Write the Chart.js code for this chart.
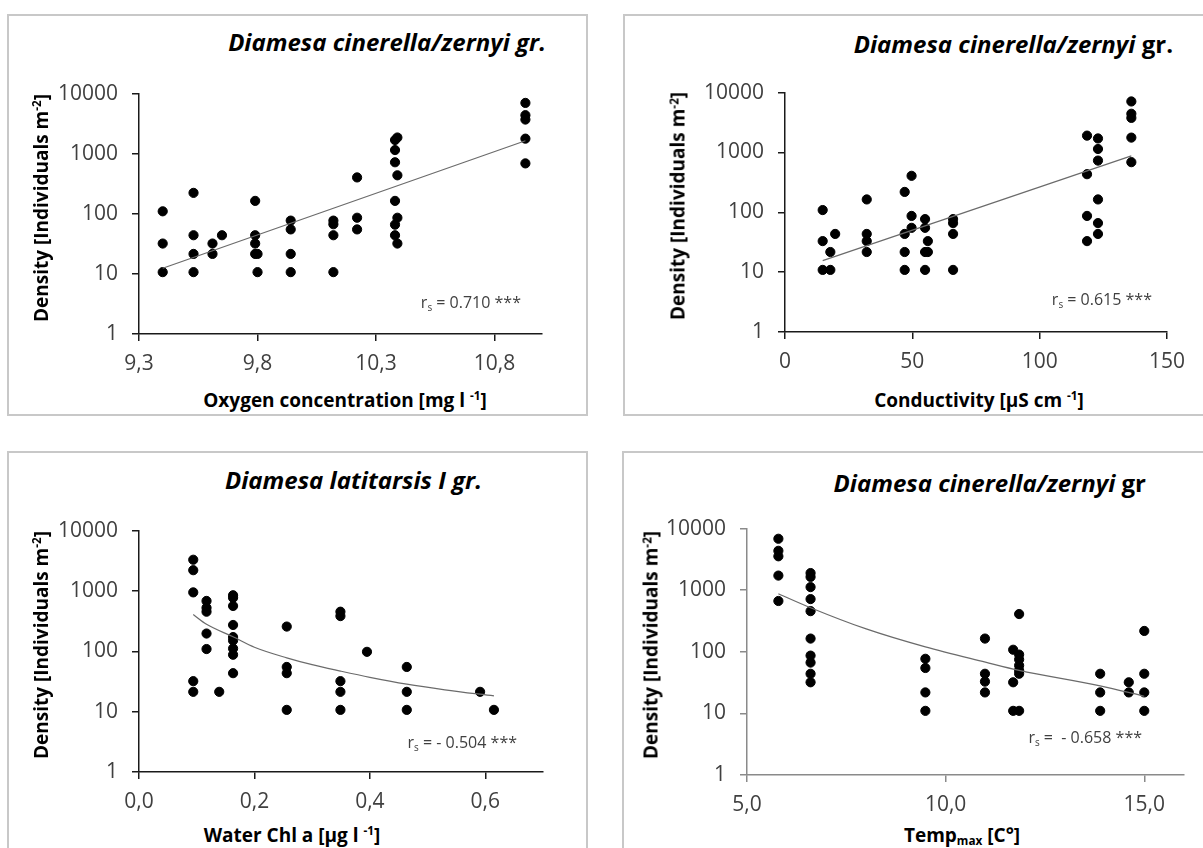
<!DOCTYPE html>
<html>
<head>
<meta charset="utf-8">
<script src="https://cdn.jsdelivr.net/npm/chart.js@4.4.1/dist/chart.umd.min.js"></script>
<style>
  body { margin: 0; background: #fff; width: 1203px; height: 848px; overflow: hidden; position: relative; font-family: 'Open Sans', sans-serif; }
  .frame { position: absolute; border: 2px solid #c8c8c8; box-sizing: border-box; }
  .plot { position: absolute; }
  .txt { position: absolute; white-space: nowrap; line-height: 1; }
  .title { font-size: 24px; font-weight: 700; font-style: italic; color: #000; }
  .title .up { font-style: normal; }
  .axt { font-size: 19px; font-weight: 700; color: #000; }
  .rs { font-size: 16px; color: #404040; }
  sup { font-size: 0.62em; vertical-align: 0.55em; line-height: 0; }
  sub { font-size: 0.62em; vertical-align: -0.3em; line-height: 0; }
</style>
</head>
<body>
<div class="frame" style="left:7px;top:14px;width:581px;height:402px"></div>
<div class="frame" style="left:623px;top:14px;width:600px;height:402px"></div>
<div class="frame" style="left:7px;top:451px;width:581px;height:420px"></div>
<div class="frame" style="left:622px;top:451px;width:600px;height:420px"></div>

<canvas id="c1" class="plot"></canvas>
<canvas id="c2" class="plot"></canvas>
<canvas id="c3" class="plot"></canvas>
<canvas id="c4" class="plot"></canvas>

<div id="labels"></div>

<script>
// Shared density axis
const yTicks = [1, 10, 100, 1000, 10000];
const yTickLabels = ['1', '10', '100', '1000', '10000'];

// Oxygen concentration panel
const oxyX = [9.40, 9.40, 9.40, 9.53, 9.53, 9.53, 9.53, 9.61, 9.61, 9.65,
  9.79, 9.79, 9.79, 9.79, 9.80, 9.80, 9.94, 9.94, 9.94, 9.94,
  10.12, 10.12, 10.12, 10.12, 10.22, 10.22, 10.22,
  10.38, 10.38, 10.38, 10.38, 10.38, 10.38, 10.39, 10.39, 10.39, 10.39,
  10.93, 10.93, 10.93, 10.93, 10.93];
const oxyDensity = [110, 32, 10.7, 223, 44, 21.5, 10.7, 32, 21.5, 44,
  164, 44, 32, 21.5, 21.5, 10.7, 77, 55, 21.5, 10.7,
  77, 67, 44, 10.7, 403, 86, 55,
  1690, 1150, 720, 164, 66, 44, 1860, 437, 86, 32,
  7000, 4370, 3700, 1780, 690];
const oxyTrendX = [9.40, 10.93];
const oxyTrendY = [12.4, 1644];
const oxyTicks = [9.3, 9.8, 10.3, 10.8];
const oxyTickLabels = ['9,3', '9,8', '10,3', '10,8'];

// Conductivity panel
const condX = [14.8, 14.8, 14.8, 17.8, 17.8, 19.7, 32.1, 32.1, 32.1, 32.1,
  47.0, 47.0, 47.0, 47.0, 49.7, 49.7, 49.7, 55.0, 55.0, 55.0, 55.0,
  56.1, 56.1, 66.0, 66.0, 66.0, 66.0, 118.6, 118.6, 118.6, 118.6,
  122.9, 122.9, 122.9, 122.9, 122.9, 122.9, 136, 136, 136, 136, 136];
const condDensity = [109, 33, 10.9, 21.7, 10.9, 43.5, 164, 43.5, 33, 21.7,
  219, 43.5, 21.7, 10.9, 407, 87, 55, 77, 55, 21.7, 10.9,
  33, 21.7, 77, 66, 43.5, 10.9, 1910, 433, 87, 33,
  1713, 1143, 731, 164, 66, 43.5, 7110, 4430, 3780, 1770, 688];
const condTrendX = [14.8, 136];
const condTrendY = [15.6, 877];
const condTicks = [0, 50, 100, 150];
const condTickLabels = ['0', '50', '100', '150'];

// Water Chl a panel
const chlX = [0.094, 0.094, 0.094, 0.094, 0.094, 0.117, 0.117, 0.117, 0.117, 0.117,
  0.139, 0.163, 0.163, 0.163, 0.163, 0.163, 0.163, 0.163, 0.163, 0.163,
  0.256, 0.256, 0.256, 0.256, 0.349, 0.349, 0.349, 0.349, 0.349,
  0.395, 0.464, 0.464, 0.464, 0.591, 0.615];
const chlDensity = [3290, 2207, 947, 32, 21.3, 683, 525, 453, 197, 109,
  21.3, 849, 771, 564, 273, 172, 151, 111, 87.6, 43.4,
  257, 55, 43.4, 10.7, 453, 383, 32, 21.3, 10.7,
  98, 55, 21.3, 10.7, 21.3, 10.7];
const chlTrendX = [0.094, 0.117, 0.163, 0.2, 0.256, 0.3, 0.349, 0.4, 0.464, 0.53, 0.615];
const chlTrendY = [406, 280, 174, 117, 78, 60, 47, 37, 28.5, 23, 18.2];
const chlTicks = [0, 0.2, 0.4, 0.6];
const chlTickLabels = ['0,0', '0,2', '0,4', '0,6'];

// Temp max panel
const tempX = [5.79, 5.79, 5.79, 5.79, 5.79,
  6.60, 6.60, 6.60, 6.60, 6.60, 6.60, 6.60, 6.60, 6.60, 6.60,
  9.49, 9.49, 9.49, 9.49, 10.99, 10.99, 10.99, 10.99,
  11.70, 11.70, 11.70, 11.85, 11.85, 11.85, 11.85, 11.85, 11.85, 11.85,
  13.89, 13.89, 13.89, 14.61, 14.61, 15.0, 15.0, 15.0, 15.0];
const tempDensity = [6840, 4360, 3550, 1727, 668,
  1898, 1645, 1122, 717, 457, 164, 86.7, 66.8, 44, 32,
  77, 54.6, 21.9, 11, 164, 44, 32.8, 21.9,
  108, 32, 11, 410, 90, 75, 60, 50, 44, 11,
  44, 21.9, 11, 32, 21.9, 218, 44, 21.9, 11];
const tempTrendX = [5.79, 6.6, 8.0, 9.49, 11.0, 11.85, 13.89, 15.0];
const tempTrendY = [877, 520, 235, 120, 68, 50, 28, 19];
const tempTicks = [5, 10, 15];
const tempTickLabels = ['5,0', '10,0', '15,0'];

const PAD_L = 95, PAD_R = 30, PAD_T = 14, PAD_B = 45;
const tickFont = { family: "'Open Sans', sans-serif", size: 21 };

function pts(xs, ys) {
  return xs.map((v, i) => ({ x: v, y: ys[i] }));
}

function makePanel(id, p) {
  const cv = document.getElementById(id);
  const w = p.right - p.left + PAD_L + PAD_R;
  const h = p.bottom - p.top + PAD_T + PAD_B;
  cv.width = w;
  cv.height = h;
  cv.style.left = (p.left - PAD_L) + 'px';
  cv.style.top = (p.top - PAD_T) + 'px';
  cv.style.width = w + 'px';
  cv.style.height = h + 'px';

  new Chart(cv, {
    type: 'scatter',
    data: {
      datasets: [
        {
          data: pts(p.tx, p.ty),
          showLine: true,
          borderColor: '#6b6b6b',
          borderWidth: 1.2,
          pointRadius: 0,
          cubicInterpolationMode: 'monotone',
          order: 0
        },
        {
          data: pts(p.x, p.y),
          backgroundColor: '#000',
          borderColor: '#000',
          pointRadius: 4.6,
          clip: false,
          order: 1
        }
      ]
    },
    options: {
      responsive: false,
      animation: false,
      layout: { padding: { top: PAD_T, right: PAD_R, left: 0, bottom: 0 } },
      plugins: { legend: { display: false }, tooltip: { enabled: false } },
      scales: {
        x: {
          type: 'linear',
          min: p.xmin,
          max: p.xmax,
          afterBuildTicks: ax => { ax.ticks = p.xticks.map(v => ({ value: v })); },
          afterFit: s => { s.height = PAD_B; },
          ticks: {
            callback: (v, i) => p.xlabels[i],
            font: tickFont,
            color: '#404040',
            padding: 10,
            maxRotation: 0,
            autoSkip: false
          },
          grid: { drawOnChartArea: false, tickLength: 7, color: p.axisColor, lineWidth: 1.5 },
          border: { color: p.axisColor, width: 1.5 }
        },
        y: {
          type: 'logarithmic',
          min: 1,
          max: 10000,
          afterBuildTicks: ax => { ax.ticks = yTicks.map(v => ({ value: v })); },
          afterFit: s => { s.width = PAD_L; },
          ticks: {
            callback: (v, i) => yTickLabels[i],
            font: tickFont,
            color: '#404040',
            padding: 14,
            autoSkip: false
          },
          grid: { drawOnChartArea: false, tickLength: 7, color: p.axisColor, lineWidth: 1.5 },
          border: { color: p.axisColor, width: 1.5 }
        }
      }
    }
  });
}

// Text overlays: [class, html, x, y, anchor]
const texts = [
  ['title', 'Diamesa cinerella/zernyi gr.', 546, 41.5, 'right'],
  ['axt', 'Density [Individuals m<sup>-2</sup>]', 41, 207.5, 'rot'],
  ['axt', 'Oxygen concentration [mg l <sup>-1</sup>]', 345, 400, 'center'],
  ['rs', 'r<sub>s</sub> = 0.710 ***', 521, 302, 'right'],

  ['title', 'Diamesa cinerella/zernyi <span class="up">gr.</span>', 1173, 44, 'right'],
  ['axt', 'Density [Individuals m<sup>-2</sup>]', 678, 206, 'rot'],
  ['axt', 'Conductivity [µS cm <sup>-1</sup>]', 979, 400, 'center'],
  ['rs', 'r<sub>s</sub> = 0.615 ***', 1152, 299, 'right'],

  ['title', 'Diamesa latitarsis I gr.', 482, 480, 'right'],
  ['axt', 'Density [Individuals m<sup>-2</sup>]', 41, 644.7, 'rot'],
  ['axt', 'Water Chl a [µg l <sup>-1</sup>]', 292, 835, 'center'],
  ['rs', 'r<sub>s</sub> = - 0.504 ***', 517, 741.7, 'right'],

  ['title', 'Diamesa cinerella/zernyi <span class="up">gr</span>', 1146, 483, 'right'],
  ['axt', 'Density [Individuals m<sup>-2</sup>]', 650.5, 645, 'rot'],
  ['axt', 'Temp<sub>max</sub> [C°]', 962, 835, 'center'],
  ['rs', 'r<sub>s</sub> = &nbsp;- 0.658 ***', 1142, 736.7, 'right']
];

function placeTexts() {
  const host = document.getElementById('labels');
  texts.forEach(([cls, html, x, y, anchor]) => {
    const d = document.createElement('div');
    d.className = 'txt ' + cls;
    d.innerHTML = html;
    d.style.left = x + 'px';
    d.style.top = y + 'px';
    if (anchor === 'right') d.style.transform = 'translate(-100%, -50%)';
    else if (anchor === 'rot') d.style.transform = 'translate(-50%, -50%) rotate(-90deg)';
    else d.style.transform = 'translate(-50%, -50%)';
    host.appendChild(d);
  });
}

function draw() {
  Chart.defaults.font.family = "'Open Sans', sans-serif";
  makePanel('c1', { left: 139, right: 542, top: 81, bottom: 334, xmin: 9.3, xmax: 11.0,
    xticks: oxyTicks, xlabels: oxyTickLabels, x: oxyX, y: oxyDensity, tx: oxyTrendX, ty: oxyTrendY, axisColor: '#1a1a1a' });
  makePanel('c2', { left: 785, right: 1167, top: 80, bottom: 332, xmin: 0, xmax: 150,
    xticks: condTicks, xlabels: condTickLabels, x: condX, y: condDensity, tx: condTrendX, ty: condTrendY, axisColor: '#1a1a1a' });
  makePanel('c3', { left: 139, right: 543, top: 518, bottom: 772, xmin: 0, xmax: 0.7,
    xticks: chlTicks, xlabels: chlTickLabels, x: chlX, y: chlDensity, tx: chlTrendX, ty: chlTrendY, axisColor: '#1a1a1a' });
  makePanel('c4', { left: 747, right: 1184, top: 516, bottom: 775, xmin: 5, xmax: 16,
    xticks: tempTicks, xlabels: tempTickLabels, x: tempX, y: tempDensity, tx: tempTrendX, ty: tempTrendY, axisColor: '#8a8a8a' });
  placeTexts();
}

Promise.all([
  document.fonts.load("21px 'Open Sans'"),
  document.fonts.load("bold 19px 'Open Sans'"),
  document.fonts.load("italic bold 24px 'Open Sans'")
]).then(draw, draw);
</script>
</body>
</html>
